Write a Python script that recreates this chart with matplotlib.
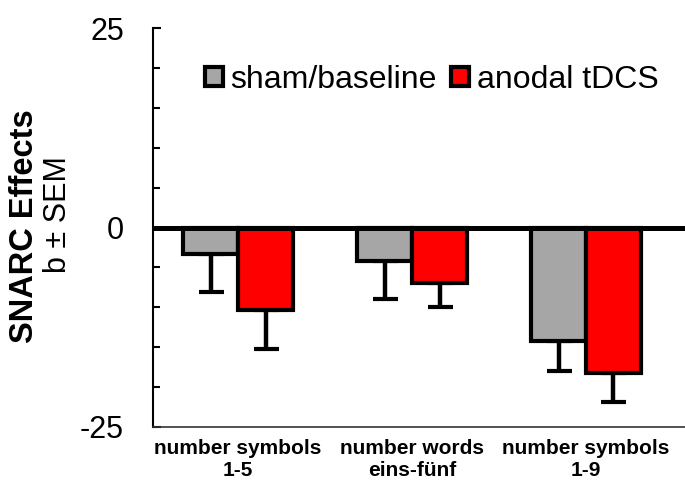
import numpy as np
import matplotlib
matplotlib.use('Agg')
from matplotlib import pyplot as plt
from matplotlib.patches import Patch
from matplotlib.ticker import MultipleLocator

plt.rcParams['font.family'] = ['Liberation Sans', 'DejaVu Sans']

# SNARC slopes (b) with SEM, per stimulus condition
condiciones = ['number symbols\n1-5', 'number words\neins-fünf', 'number symbols\n1-9']
sham = [-3.3, -4.2, -14.2]
sham_sem = [4.8, 4.8, 3.8]
anodal = [-10.3, -6.9, -18.2]
anodal_sem = [4.9, 3.0, 3.7]

GRIS = '#a6a6a6'
ROJO = '#ff0000'

fig = plt.figure(figsize=(6.85, 4.83), dpi=100)
ax = fig.add_axes([153 / 685, 56 / 483, 532 / 685, 399 / 483])

x = np.arange(len(condiciones))
ancho = 0.316

for desplaz, valores, sem, color in [(-ancho / 2, sham, sham_sem, GRIS),
                                     (ancho / 2, anodal, anodal_sem, ROJO)]:
    ax.bar(x + desplaz, valores, width=ancho, color=color, edgecolor='black',
           linewidth=3, zorder=2)
    # solo la mitad inferior de la barra de error
    yerr = [sem, [0] * len(sem)]
    ax.errorbar(x + desplaz, valores, yerr=yerr, fmt='none', ecolor='black',
                elinewidth=3.2, capsize=9, capthick=3, zorder=1)

ax.axhline(0, color='black', linewidth=3.6, zorder=3)

ax.set_xlim(-0.489, 2.569)
ax.set_ylim(-25, 25)
ax.set_yticks([-25, 0, 25])
ax.yaxis.set_minor_locator(MultipleLocator(5))
ax.tick_params(axis='y', which='major', direction='in', length=6, width=1.5,
               labelsize=22, pad=21)
ax.tick_params(axis='y', which='minor', direction='in', length=5, width=1.5)
ax.set_yticklabels(['-25', '0', '25'])

ax.set_xticks(x)
ax.set_xticklabels(condiciones, fontsize=15, fontweight='bold', linespacing=1.2)
ax.tick_params(axis='x', length=0, pad=9)

ax.spines['top'].set_visible(False)
ax.spines['right'].set_visible(False)
ax.spines['left'].set_linewidth(1.5)
ax.spines['bottom'].set_linewidth(1.2)
ax.spines['bottom'].set_color('#333333')

fig.text(25 / 685, 1 - 226 / 483, 'SNARC Effects', rotation=90, fontsize=23.5,
         fontweight='bold', ha='center', va='center')
fig.text(58 / 685, 1 - 215 / 483, 'b ± SEM', rotation=90, fontsize=22,
         ha='center', va='center')

manijas = [Patch(facecolor=GRIS, edgecolor='black', linewidth=3),
           Patch(facecolor=ROJO, edgecolor='black', linewidth=3)]
ax.legend(manijas, ['sham/baseline', 'anodal tDCS'], ncol=2, frameon=False,
          fontsize=23, loc='center left',
          bbox_to_anchor=((205 - 153) / 532, (427 - 80) / 399),
          handlelength=0.55, handleheight=0.55, handletextpad=0.25,
          columnspacing=0.45, borderpad=0, borderaxespad=0)

fig.savefig('out.png', dpi=100)
